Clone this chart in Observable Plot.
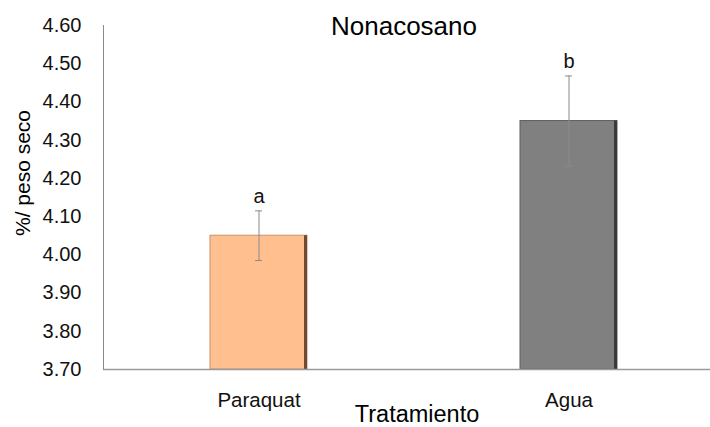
<!DOCTYPE html>
<html>
<head>
<meta charset="utf-8">
<script src="https://cdn.jsdelivr.net/npm/d3@7"></script>
<script src="https://cdn.jsdelivr.net/npm/@observablehq/plot@0.6"></script>
<style>
  html, body { margin: 0; padding: 0; background: #fff; }
  #chart svg { display: block; }
</style>
</head>
<body>
<div id="chart"></div>
<script>
const categories = ["Paraquat", "Agua"];
const means = [4.05, 4.35];
const errors = [0.065, 0.118];
const letters = ["a", "b"];
const fills = ["#FFBF8F", "#808080"];
const edges = ["#6e4b33", "#3a3a3a"];
const outlines = ["#c8906a", "#5e5e5e"];
const yTicks = [3.70, 3.80, 3.90, 4.00, 4.10, 4.20, 4.30, 4.40, 4.50, 4.60];
const title = "Nonacosano";
const xLabel = "Tratamiento";
const yLabel = "%/ peso seco";
const yBase = 3.70;

const data = categories.map((c, i) => ({
  cat: c, mean: means[i], lo: means[i] - errors[i], hi: means[i] + errors[i],
  letter: letters[i], fill: fills[i], edge: edges[i], outline: outlines[i]
}));

const font = "'Liberation Sans', Arial, Helvetica, sans-serif";

function build(bw) {
  return Plot.plot({
    width: 710,
    height: 427,
    marginLeft: 103,
    marginRight: 0,
    marginTop: 25,
    marginBottom: 58,
    style: { fontFamily: font, background: "#fff", color: "#000", overflow: "visible" },
    x: { type: "band", domain: categories, paddingInner: 0.687, paddingOuter: 0.3225, align: 0.535, label: null },
    y: { domain: [3.70, 4.60], label: null },
    marks: [
      Plot.axisY({ ticks: yTicks, tickFormat: d3.format(".2f"), tickSize: 0, tickPadding: 22, fontSize: 20, fill: "#111", label: null }),
      Plot.axisX({ tickSize: 0, tickPadding: 22.5, fontSize: 20.5, fill: "#111", label: null }),
      Plot.barY(data, { x: "cat", y1: () => yBase, y2: "mean", fill: "fill", stroke: "outline", strokeWidth: 1 }),
      Plot.barY(data, { x: "cat", y1: () => yBase, y2: "mean", fill: "edge", insetLeft: bw - 3 }),
      Plot.ruleX(data, { x: "cat", y1: "lo", y2: "hi", stroke: "#8a8a8a", strokeWidth: 1 }),
      Plot.tickY(data, { x: "cat", y: "lo", stroke: "#8a8a8a", strokeWidth: 1, insetLeft: (bw - 7) / 2, insetRight: (bw - 7) / 2 }),
      Plot.tickY(data, { x: "cat", y: "hi", stroke: "#8a8a8a", strokeWidth: 1, insetLeft: (bw - 7) / 2, insetRight: (bw - 7) / 2 }),
      Plot.text(data, { x: "cat", y: "hi", text: "letter", dy: -14, fontSize: 20, fill: "#111", lineAnchor: "middle" }),
      Plot.ruleY([yBase], { stroke: "#9a9a9a", strokeWidth: 1.5 }),
      Plot.frame({ anchor: "left", stroke: "#8a8a8a", strokeWidth: 1 }),
      Plot.text([title], { frameAnchor: "top", textAnchor: "middle", dx: -3, dy: 1.5, fontSize: 26, fill: "#000", lineAnchor: "middle" }),
      Plot.text([xLabel], { frameAnchor: "bottom", textAnchor: "middle", dx: 10, dy: 45, fontSize: 23.5, fill: "#000", lineAnchor: "middle" }),
      Plot.text([yLabel], { frameAnchor: "left", textAnchor: "middle", dx: -80, dy: -24.5, rotate: -90, fontSize: 21, fill: "#000", lineAnchor: "middle" })
    ]
  });
}

const first = build(97);
const bw = first.scale("x").bandwidth;
const chart = build(bw);
document.getElementById("chart").appendChild(chart);
</script>
</body>
</html>
